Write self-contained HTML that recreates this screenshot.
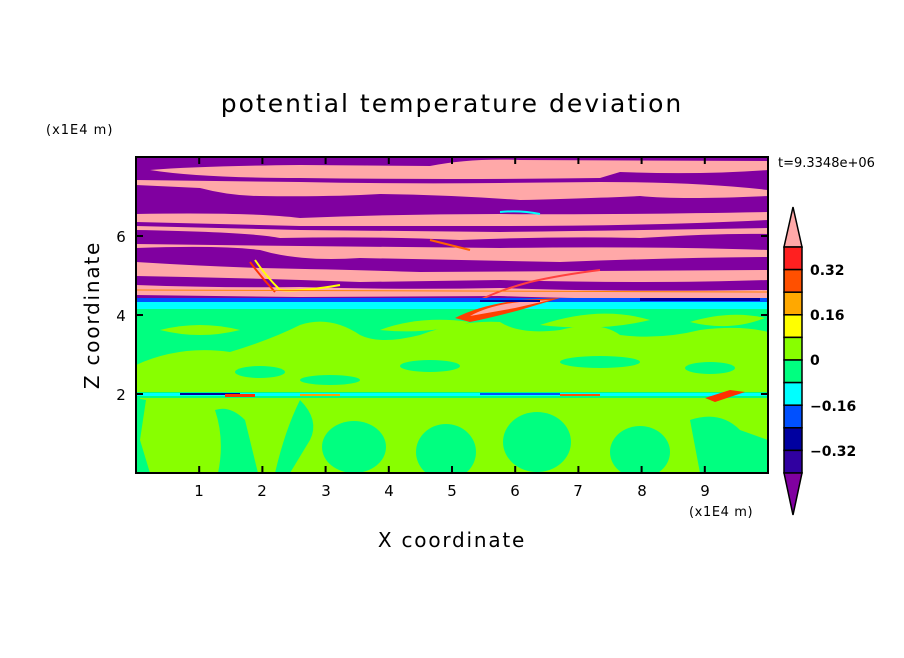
<!DOCTYPE html>
<html><head><meta charset="utf-8"><style>
body{margin:0;background:#fff;width:904px;height:654px;overflow:hidden;font-family:"DejaVu Sans","Liberation Sans",sans-serif}
</style></head><body>
<svg width="904" height="654" xmlns="http://www.w3.org/2000/svg" font-family="DejaVu Sans, Liberation Sans, sans-serif">
<defs><clipPath id="c"><rect x="136" y="157" width="632" height="316"/></clipPath></defs>
<g clip-path="url(#c)">
<rect x="136" y="157" width="632" height="316" fill="#00ff80"/>
<path d="M140 398 L768 398 L768 473 L136 473 Z" fill="#88ff00"/>
<g fill="#00ff80">
<path d="M136 398 L146 400 L140 440 L150 473 L136 473 Z"/>
<path d="M215 410 Q230 405 245 420 L258 473 L218 473 Q225 440 215 410Z"/>
<ellipse cx="354" cy="447" rx="32" ry="26"/>
<ellipse cx="446" cy="452" rx="30" ry="28"/>
<ellipse cx="537" cy="442" rx="34" ry="30"/>
<ellipse cx="640" cy="452" rx="30" ry="26"/>
<path d="M690 420 Q720 410 740 430 L768 440 L768 473 L700 473 Z"/>
<path d="M300 400 Q320 420 310 440 L290 473 L275 473 Q285 430 300 400Z"/>
</g>
<g fill="#88ff00">
<path d="M136 365 Q180 345 230 352 Q270 340 300 325 Q330 315 360 335 Q380 345 420 335 Q460 320 500 322 Q520 335 560 330 Q600 320 620 335 Q660 340 700 330 Q740 325 768 332 L768 392 L136 392 Z"/>
<path d="M160 330 Q200 320 240 330 Q200 340 160 330Z"/>
<path d="M540 325 Q600 305 650 320 Q600 332 540 325Z"/>
<path d="M690 322 Q730 310 765 318 Q730 332 690 322Z"/>
<path d="M380 330 Q420 315 470 322 Q430 335 380 330Z"/>
</g>
<g fill="#00ff80">
<ellipse cx="260" cy="372" rx="25" ry="6"/>
<ellipse cx="330" cy="380" rx="30" ry="5"/>
<ellipse cx="430" cy="366" rx="30" ry="6"/>
<ellipse cx="600" cy="362" rx="40" ry="6"/>
<ellipse cx="710" cy="368" rx="25" ry="6"/>
</g>
<rect x="136" y="393" width="632" height="3" fill="#00ffff"/>
<rect x="180" y="393" width="60" height="2" fill="#0000a0"/>
<rect x="225" y="394" width="30" height="3" fill="#ff3000"/>
<rect x="300" y="394" width="40" height="2" fill="#ffa000"/>
<rect x="480" y="393" width="80" height="2" fill="#0050ff"/>
<rect x="560" y="394" width="40" height="2" fill="#ff5000"/>
<path d="M705 398 L730 390 L745 392 L715 402Z" fill="#ff3000"/>
<rect x="136" y="157" width="632" height="145" fill="#8000a0"/>
<g fill="#ffa8a8">
<path d="M150 170 Q200 166 300 165 L430 166 Q470 158 520 160 L768 161 L768 170 Q700 175 620 172 L600 178 Q450 180 300 178 Q200 178 150 170Z"/>
<path d="M136 185 L200 188 Q230 196 260 196 Q330 197 380 194 Q450 195 520 200 Q600 198 640 196 Q680 200 768 196 L768 190 Q700 182 600 182 L500 183 Q400 184 300 182 L136 180Z"/>
<path d="M136 214 Q250 212 300 218 Q400 214 500 214 Q600 215 768 212 L768 220 Q650 226 500 226 L300 226 L136 222Z"/>
<path d="M136 230 Q250 232 280 238 Q380 236 460 240 Q560 236 640 238 Q720 233 768 234 L768 228 Q650 230 500 232 L300 230 L136 226Z"/>
<path d="M136 248 Q220 245 260 250 Q300 262 360 258 Q460 260 560 262 Q660 258 768 257 L768 250 Q650 246 500 248 L300 246 L136 244Z"/>
<path d="M136 262 Q200 266 260 268 Q360 270 420 272 L768 270 L768 280 Q650 284 500 280 L360 282 Q250 278 136 276Z"/>
<path d="M136 285 Q220 288 300 287 Q400 290 500 288 Q600 292 768 290 L768 298 Q600 300 500 296 L300 297 L136 295Z"/>
</g>
<g fill="none" stroke-width="2">
<path d="M255 260 Q265 275 280 290 Q300 292 340 285" stroke="#ffff00"/>
<path d="M250 262 Q262 278 275 292" stroke="#ff3000"/>
<path d="M480 300 Q500 290 530 282 Q560 275 600 270" stroke="#ff4040"/>
<path d="M430 240 Q450 245 470 250" stroke="#ff6000"/>
<path d="M136 290 L768 292" stroke="#ff8000" stroke-width="1"/>
<path d="M500 212 Q520 210 540 214" stroke="#00ffff"/>
</g>
<rect x="136" y="298" width="632" height="5" fill="#0050ff"/>
<rect x="136" y="302" width="632" height="7" fill="#00ffff"/>
<path d="M455 318 Q480 305 520 300 L560 298 L520 310 Q490 318 470 322Z" fill="#ff4000"/>
<path d="M470 316 Q490 305 520 302 L550 300 L515 308Z" fill="#ffa8a8"/>
<rect x="640" y="298" width="120" height="3" fill="#0000a0"/>
<rect x="480" y="300" width="60" height="2" fill="#0000a0"/>
</g>
<rect x="136" y="157" width="632" height="316" fill="none" stroke="#000" stroke-width="2"/>
<g stroke="#000" stroke-width="2">
<path d="M199.2 473v-7M262.4 473v-7M325.6 473v-7M388.8 473v-7M452 473v-7M515.2 473v-7M578.4 473v-7M641.6 473v-7M704.8 473v-7"/>
<path d="M199.2 157v7M262.4 157v7M325.6 157v7M388.8 157v7M452 157v7M515.2 157v7M578.4 157v7M641.6 157v7M704.8 157v7"/>
<path d="M136 394h7M136 315h7M136 236h7M768 394h-7M768 315h-7M768 236h-7"/>
</g>
<g font-size="15" fill="#000" text-anchor="middle">
<text x="199" y="496">1</text><text x="262" y="496">2</text><text x="326" y="496">3</text><text x="389" y="496">4</text><text x="452" y="496">5</text><text x="515" y="496">6</text><text x="578" y="496">7</text><text x="642" y="496">8</text><text x="705" y="496">9</text>
<text x="121" y="400">2</text><text x="121" y="321">4</text><text x="121" y="242">6</text>
</g>
<text x="452" y="112" font-size="25" text-anchor="middle" letter-spacing="2">potential temperature deviation</text>
<text x="452" y="547" font-size="20" text-anchor="middle" letter-spacing="1.8">X coordinate</text>
<text transform="translate(99,315) rotate(-90)" font-size="20" text-anchor="middle" letter-spacing="1.8">Z coordinate</text>
<text x="46" y="134" font-size="13" letter-spacing="1">(x1E4 m)</text>
<text x="689" y="516" font-size="13" letter-spacing="0.6">(x1E4 m)</text>
<text x="778" y="167" font-size="13">t=9.3348e+06</text>
<g stroke="#000" stroke-width="1.5">
<path d="M793 207 L802 247 L784 247Z" fill="#ffa8a8"/>
<rect x="784" y="247" width="18" height="22.6" fill="#ff2020"/>
<rect x="784" y="269.6" width="18" height="22.6" fill="#ff5000"/>
<rect x="784" y="292.2" width="18" height="22.6" fill="#ffa800"/>
<rect x="784" y="314.8" width="18" height="22.6" fill="#ffff00"/>
<rect x="784" y="337.4" width="18" height="22.6" fill="#88ff00"/>
<rect x="784" y="360" width="18" height="22.6" fill="#00ff80"/>
<rect x="784" y="382.6" width="18" height="22.6" fill="#00ffff"/>
<rect x="784" y="405.2" width="18" height="22.6" fill="#0050ff"/>
<rect x="784" y="427.8" width="18" height="22.6" fill="#0000a0"/>
<rect x="784" y="450.4" width="18" height="22.6" fill="#3000a0"/>
<path d="M784 473 L802 473 L793 515Z" fill="#8000a0"/>
</g>
<g font-size="14" font-weight="bold" fill="#000">
<text x="810" y="275">0.32</text><text x="810" y="320">0.16</text><text x="810" y="365">0</text><text x="810" y="411">−0.16</text><text x="810" y="456">−0.32</text>
</g>
</svg>
</body></html>
